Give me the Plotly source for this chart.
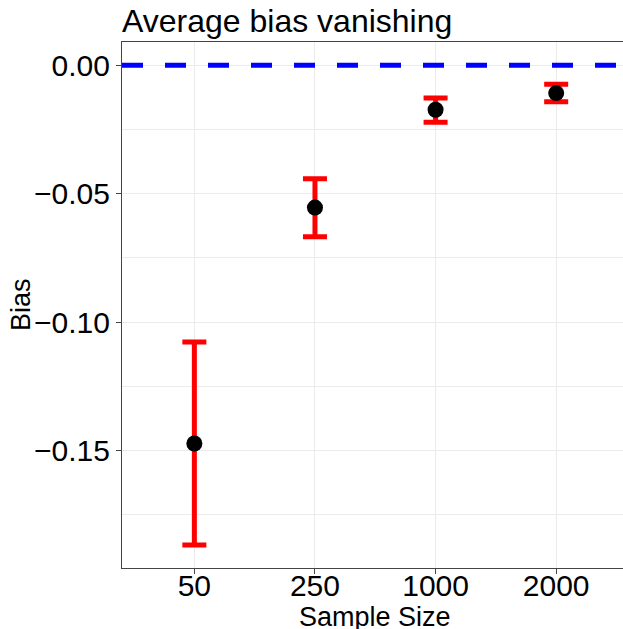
import plotly.graph_objects as go

# ---- data ----
sample_sizes = ["50", "250", "1000", "2000"]
bias_mean = [-0.1473, -0.0554, -0.0173, -0.0108]
bias_lower = [-0.1868, -0.0668, -0.0222, -0.0142]
bias_upper = [-0.1078, -0.0442, -0.0127, -0.0074]
reference_bias = 0.0

y_ticks = [0.0, -0.05, -0.10, -0.15]
y_tick_labels = ["0.00", "\u22120.05", "\u22120.10", "\u22120.15"]

FONT = "Liberation Sans, Arial, Helvetica, sans-serif"

W, H = 623, 629
ML, MR, MT, MB = 122, 0, 42, 61
PW = W - ML - MR

err_plus = [u - m for u, m in zip(bias_upper, bias_mean)]
err_minus = [m - l for m, l in zip(bias_mean, bias_lower)]

fig = go.Figure()
fig.add_trace(go.Scatter(
    x=sample_sizes, y=bias_mean, mode="markers",
    marker=dict(color="black", size=16),
    error_y=dict(type="data", symmetric=False, array=err_plus, arrayminus=err_minus,
                 color="#FF0000", thickness=5, width=12),
    showlegend=False, cliponaxis=False,
))

fig.add_shape(type="line", xref="paper", x0=0, x1=1, yref="y", y0=reference_bias, y1=reference_bias,
              line=dict(color="#0000FF", width=5, dash="21px,22px"), layer="above")

# axis titles as annotations for precise placement
fig.add_annotation(text="Sample Size", xref="paper", yref="paper",
                   x=(375 - ML) / PW, y=0, xanchor="center", yanchor="top", yshift=-32,
                   showarrow=False, font=dict(size=27, color="black", family=FONT))
fig.add_annotation(text="Bias", xref="paper", yref="paper", textangle=-90,
                   x=(21 - ML) / PW, y=0.5, xanchor="center", yanchor="middle",
                   showarrow=False, font=dict(size=27, color="black", family=FONT))

fig.update_layout(
    width=W, height=H,
    margin=dict(l=ML, r=MR, t=MT, b=MB, pad=0, autoexpand=False),
    paper_bgcolor="white", plot_bgcolor="white",
    font=dict(family=FONT, color="black"),
    title=dict(text="Average bias vanishing", font=dict(size=32, color="black", family=FONT),
               xref="paper", x=0, xanchor="left", yref="container", y=1 - 21 / H, yanchor="middle",
               automargin=False),
    xaxis=dict(
        type="category", categoryorder="array", categoryarray=sample_sizes,
        range=[-0.6, 3.554], automargin=False,
        showline=True, linecolor="#444444", linewidth=1.3, mirror=True,
        ticks="outside", ticklen=5, tickcolor="#444444", tickwidth=1.2,
        tickfont=dict(size=30, color="black"), ticklabelstandoff=-14,
        showgrid=True, gridcolor="#EBEBEB", gridwidth=1.2,
        zeroline=False,
    ),
    yaxis=dict(
        range=[-0.1958, 0.0091], automargin=False,
        tickvals=y_ticks, ticktext=y_tick_labels,
        showline=True, linecolor="#444444", linewidth=1.3, mirror=False,
        ticks="outside", ticklen=5, tickcolor="#444444", tickwidth=1.2,
        tickfont=dict(size=30, color="black"),
        showgrid=True, gridcolor="#EBEBEB", gridwidth=1.2,
        minor=dict(tickvals=[-0.025, -0.075, -0.125, -0.175], showgrid=True,
                   gridcolor="#EBEBEB", gridwidth=0.8, ticks=""),
        zeroline=False,
    ),
)

fig.write_html("out.html", config={"displayModeBar": False},
               post_script="document.body.style.margin='0px';document.body.style.padding='0px';")
